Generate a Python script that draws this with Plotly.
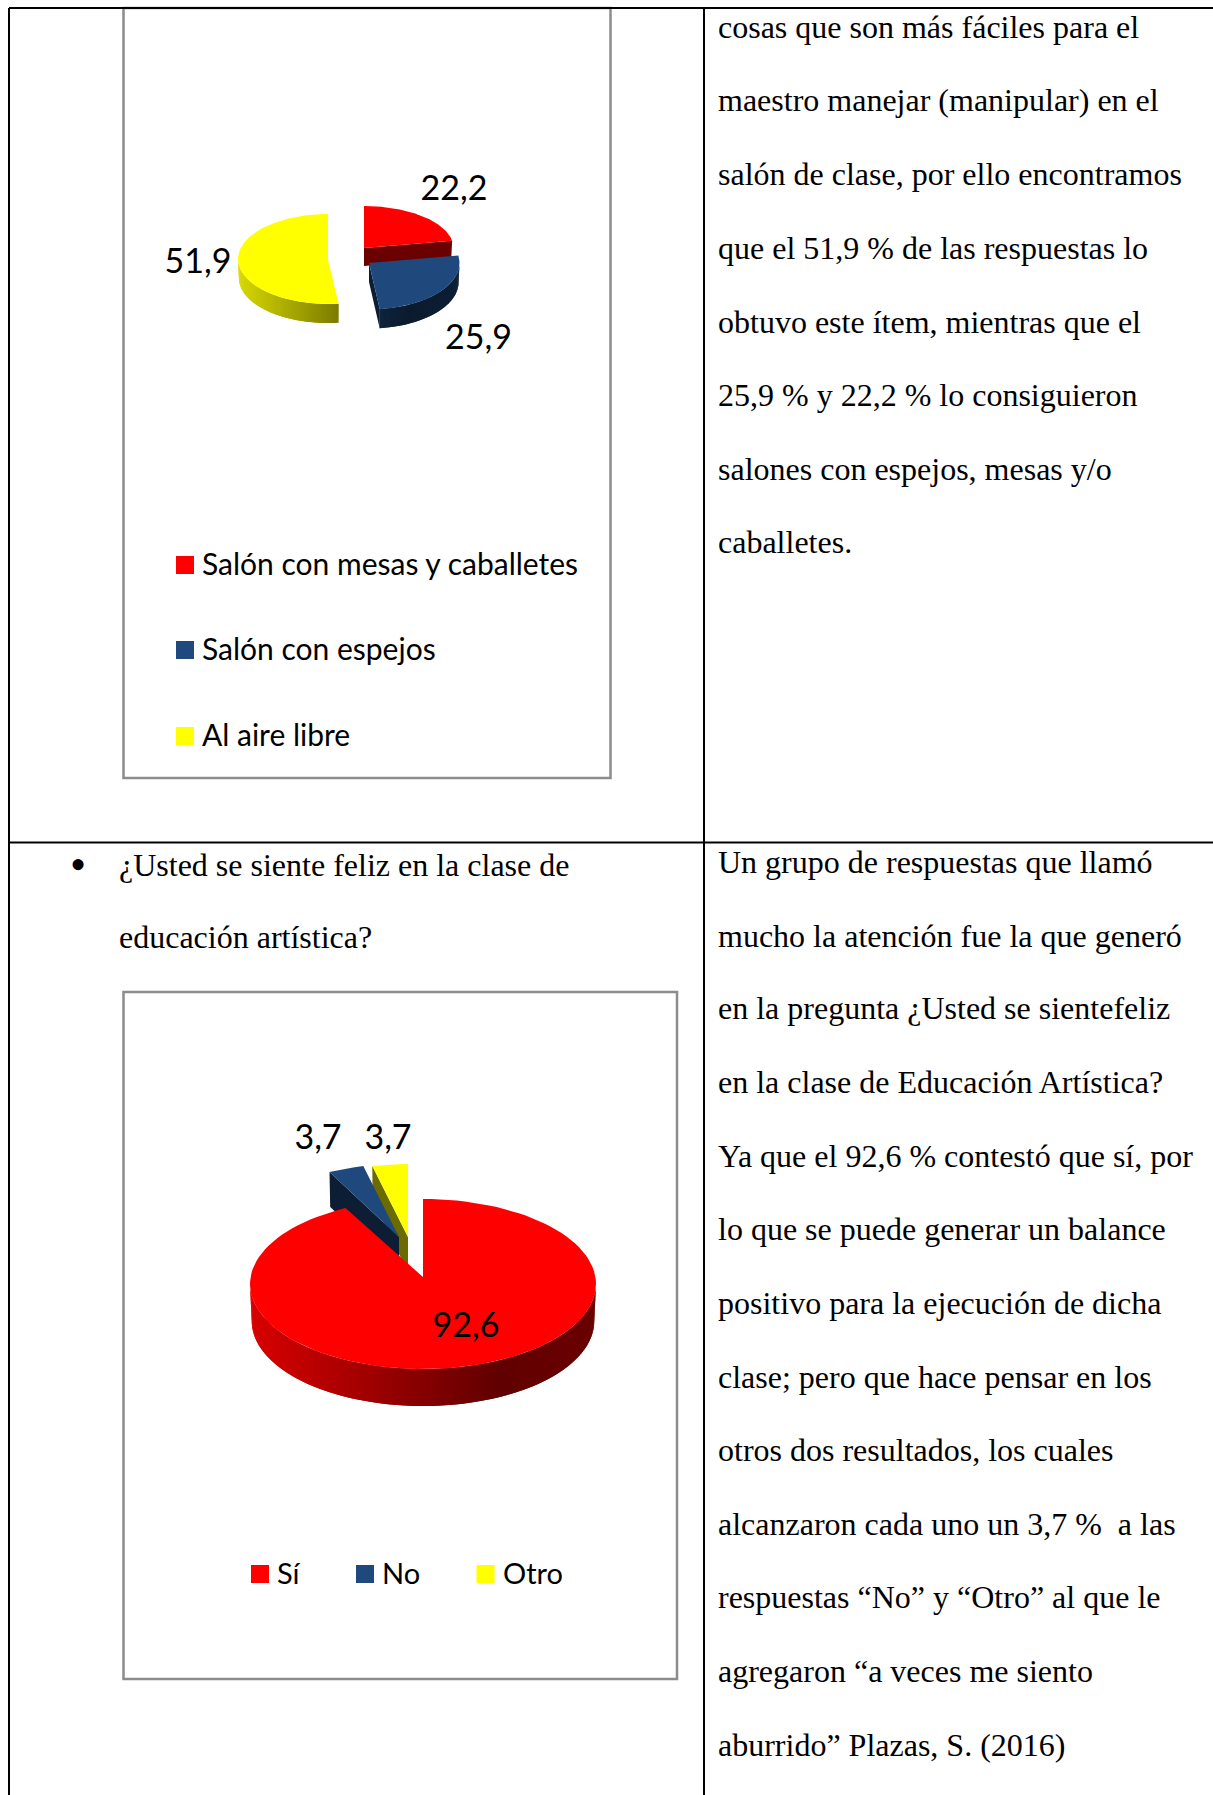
import math
import numpy as np
import plotly.graph_objects as go

# datos de los dos graficos
cat_salon = ['Salón con mesas y caballetes', 'Salón con espejos', 'Al aire libre']
val_salon = [22.2, 25.9, 51.9]
cat_feliz = ['Sí', 'No', 'Otro']
val_feliz = [92.6, 3.7, 3.7]

RED, NAVY, YELLOW = '#FF0000', '#1F497D', '#FFFF00'
colors = [RED, NAVY, YELLOW]

# geometria de cada porcion: apice x, apice y, ajuste centro, rx, ry, profundidad
geo_salon = [(364, 248, 0, 89.5, 42, 18), (369, 263, 0, 90.5, 46.5, 19), (328, 260, -1, 90, 45, 19)]
geo_feliz = [(423, 1277, 7, 173, 85, 37), (399, 1237, 3, 155, 76, 35), (408, 1237, 3, 155, 76, 35)]

# texto del documento
right_top = ['cosas que son más fáciles para el', 'maestro manejar (manipular) en el',
             'salón de clase, por ello encontramos', 'que el 51,9 % de las respuestas lo',
             'obtuvo este ítem, mientras que el', '25,9 % y 22,2 % lo consiguieron',
             'salones con espejos, mesas y/o', 'caballetes.']
right_top_y = [26.5, 100, 174, 248, 321.5, 395, 468.5, 542]
right_bot = ['Un grupo de respuestas que llamó', 'mucho la atención fue la que generó',
             'en la pregunta ¿Usted se sientefeliz', 'en la clase de Educación Artística?',
             'Ya que el 92,6 % contestó que sí, por', 'lo que se puede generar un balance',
             'positivo para la ejecución de dicha', 'clase; pero que hace pensar en los',
             'otros dos resultados, los cuales', 'alcanzaron cada uno un 3,7 %  a las',
             'respuestas “No” y “Otro” al que le', 'agregaron “a veces me siento',
             'aburrido” Plazas, S. (2016)']
right_bot_y = [862, 936, 1008, 1082, 1156, 1229, 1303, 1376.6, 1450, 1524, 1597, 1671, 1745]

BODY_FONT = 'Liberation Serif'
CHART_FONT = 'Lato'

fig = go.Figure()


def shade(hex_color, f):
    r, g, b = [int(hex_color[i:i + 2], 16) for i in (1, 3, 5)]
    return 'rgb(%d,%d,%d)' % (r * f, g * f, b * f)


def rim(g, deg, low=False):
    ax, ay, cdy, rx, ry, depth = g
    t = math.radians(deg)
    k = 0.99 if low else 1.0
    return ax + rx * k * math.sin(t), ay + cdy - ry * math.cos(t) + (depth if low else 0)


def poly(xs, ys, color):
    fig.add_trace(go.Scatter(x=xs, y=ys, mode='lines', fill='toself', fillcolor=color,
                             line=dict(width=0), hoverinfo='skip', showlegend=False))


def draw_slice(g, start, end, color):
    ax, ay, depth = g[0], g[1], g[5]
    # caras radiales, solo si miran hacia abajo
    for ang, normal in ((start, start - 90), (end, end + 90)):
        if -math.cos(math.radians(normal)) > 0:
            px, py = rim(g, ang)
            bx, by = rim(g, ang, True)
            poly([ax, px, bx, ax, ax], [ay, py, by, ay + depth, ay], shade(color, 0.42))
    # borde exterior con degradado, cada tramo pisa un poco al siguiente
    a0, a1 = max(start, 90), min(end, 270)
    if a1 > a0:
        edges = np.linspace(a0, a1, max(2, int((a1 - a0) / 1.5) + 1))
        step = edges[1] - edges[0]
        for d0, d1 in zip(edges[:-1], edges[1:]):
            s = math.sin(math.radians((d0 + d1) / 2))
            f = float(np.interp(s, [-1, 0.44, 1], [0.85, 0.38, 0.42]))
            d2 = min(d1 + step, a1)
            p0, p1 = rim(g, d0), rim(g, d2)
            q0, q1 = rim(g, d0, True), rim(g, d2, True)
            poly([p0[0], p1[0], q1[0], q0[0], p0[0]], [p0[1], p1[1], q1[1], q0[1], p0[1]], shade(color, f))
    # cara superior
    pts = [rim(g, a) for a in np.linspace(start, end, 120)]
    poly([ax] + [p[0] for p in pts] + [ax], [ay] + [p[1] for p in pts] + [ay], color)


def draw_pie(values, geos, order):
    edges = np.cumsum([0] + values) / sum(values) * 360
    for i in order:
        draw_slice(geos[i], edges[i], edges[i + 1], colors[i])


draw_pie(val_salon, geo_salon, [0, 1, 2])
draw_pie(val_feliz, geo_feliz, [2, 1, 0])

# etiquetas de datos
label_x = [454, 478.5, 198, 466, 318, 388]
label_y = [191.5, 340.5, 264.5, 1328.5, 1140, 1140]
labels = [f'{v:.1f}'.replace('.', ',') for v in val_salon + val_feliz]
fig.add_trace(go.Scatter(x=label_x, y=label_y, text=labels, mode='text', textposition='middle center',
                         textfont=dict(family=CHART_FONT, size=34, color='#000000'),
                         hoverinfo='skip', showlegend=False))

shapes = []


def rect(x0, y0, x1, y1, fill=None, line=None, w=0):
    shapes.append(dict(type='rect', x0=x0, y0=y0, x1=x1, y1=y1, xref='x', yref='y',
                       fillcolor=fill, line=dict(color=line, width=w), layer='below'))


def hline(x0, y0, x1, y1):
    shapes.append(dict(type='line', x0=x0, y0=y0, x1=x1, y1=y1, xref='x', yref='y',
                       line=dict(color='#000000', width=2), layer='below'))


# marcos de los graficos
rect(123.5, 8, 610.5, 778, line='#8C8C8C', w=2.5)
rect(123.5, 992, 677, 1679, line='#8C8C8C', w=2.5)

# lineas de la tabla
hline(9, 8, 1213, 8)
hline(9, 842.5, 1213, 842.5)
hline(9, 8, 9, 1795)
hline(704, 8, 704, 1795)

# leyendas
leg_salon_y = [563, 648, 734]
for name, c, y in zip(cat_salon, colors, leg_salon_y):
    rect(176, y - 7, 194, y + 11, fill=c)
    fig.add_annotation(x=199.5, y=y, text=name, showarrow=False, xanchor='left', yanchor='middle',
                       font=dict(family=CHART_FONT, size=30, color='#000000'))

leg_feliz_x = [251, 356, 476.5]
for name, c, x in zip(cat_feliz, colors, leg_feliz_x):
    rect(x, 1565, x + 18, 1583, fill=c)
    fig.add_annotation(x=x + 24, y=1572, text=name, showarrow=False, xanchor='left', yanchor='middle',
                       font=dict(family=CHART_FONT, size=29, color='#000000'))


def body(x, y, text):
    fig.add_annotation(x=x, y=y, text=text, showarrow=False, xanchor='left', yanchor='middle',
                       font=dict(family=BODY_FONT, size=32, color='#000000'))


for line, y in zip(right_top, right_top_y):
    body(716, y, line)
for line, y in zip(right_bot, right_bot_y):
    body(716, y, line)
fig.add_annotation(x=78, y=864, text='•', showarrow=False, xanchor='center', yanchor='middle',
                   font=dict(family=BODY_FONT, size=46, color='#000000'))
body(116.5, 865, '¿Usted se siente feliz en la clase de')
body(116.5, 937, 'educación artística?')

fig.update_layout(
    width=1213, height=1795, autosize=False,
    margin=dict(l=0, r=0, t=0, b=0),
    paper_bgcolor='white', plot_bgcolor='white',
    showlegend=False, shapes=shapes,
    xaxis=dict(range=[0, 1213], visible=False, fixedrange=True),
    yaxis=dict(range=[1795, 0], visible=False, fixedrange=True),
)

fig.write_html("out.html", config=dict(displayModeBar=False),
               post_script="document.body.style.margin='0';document.body.style.overflow='hidden';")
